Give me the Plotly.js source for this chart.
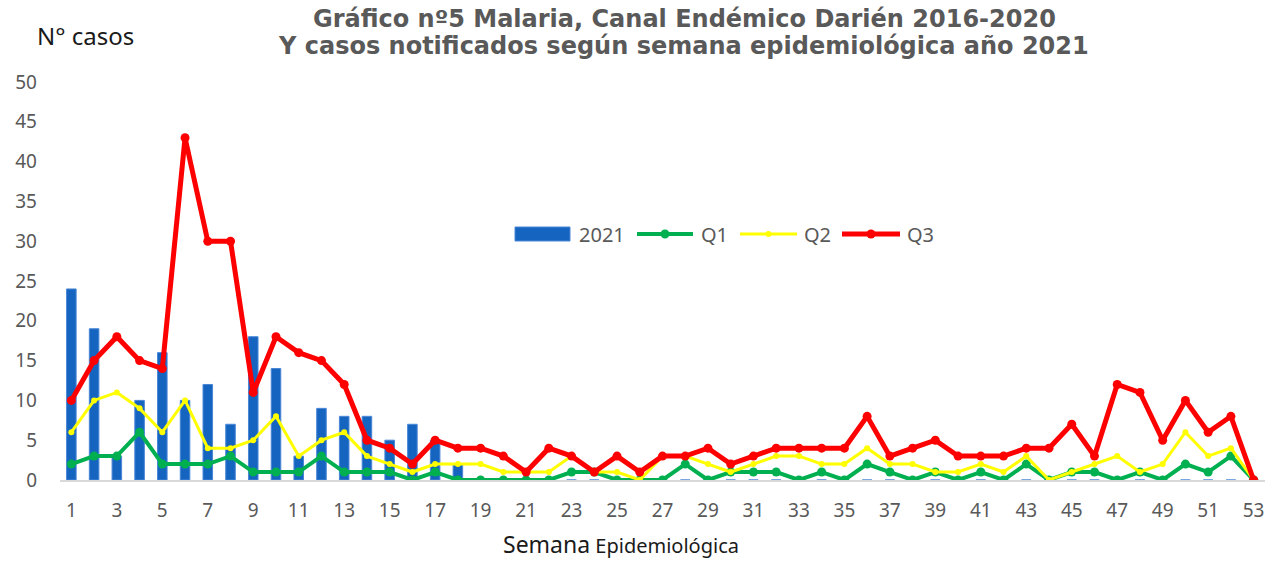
<!DOCTYPE html>
<html><head><meta charset="utf-8">
<script src="https://cdn.plot.ly/plotly-3.0.1.min.js"></script>
<style>body{margin:0;background:#fff}#chart{width:1277px;height:561px}</style>
</head><body><div id="chart"></div>
<script>
const weeks = Array.from({length:53},(_,i)=>i+1);
const cases2021 = [24,19,3,10,16,10,12,7,18,14,3,9,8,8,5,7,5,2,0,0,0,0,0,0,0,0,0,0,0,0,0,0,0,0,0,0,0,0,0,0,0,0,0,0,0,0,0,0,0,0,0,0,0];
const q1 = [2,3,3,6,2,2,2,3,1,1,1,3,1,1,1,0,1,0,0,0,0,0,1,1,0,0,0,2,0,1,1,1,0,1,0,2,1,0,1,0,1,0,2,0,1,1,0,1,0,2,1,3,0];
const q2 = [6,10,11,9,6,10,4,4,5,8,3,5,6,3,2,1,2,2,2,1,1,1,3,1,1,0,3,3,2,1,2,3,3,2,2,4,2,2,1,1,2,1,3,0,1,2,3,1,2,6,3,4,0];
const q3 = [10,15,18,15,14,43,30,30,11,18,16,15,12,5,4,2,5,4,4,3,1,4,3,1,3,1,3,3,4,2,3,4,4,4,4,8,3,4,5,3,3,3,4,4,7,3,12,11,5,10,6,8,0];
const seriesNames = ['2021','Q1','Q2','Q3'];
const tickWeeks = weeks.filter(w=>w%2===1);
const yTicks = [0,5,10,15,20,25,30,35,40,45,50];

const gray = '#595959';
const BLUE = '#1565C0', GREEN = '#00B050', YELLOW = '#FFFF00', RED = '#FF0000';
const FONT = '"Noto Sans", "Open Sans", sans-serif';

// plot area geometry in pixels (for converting legend/title placement)
const L = 60, R = 12, T = 82, B = 81, W = 1277, H = 561;
const pw = W - L - R, ph = H - T - B;
const px = x => (x - L) / pw;
const py = y => (H - B - y) / ph;

const traces = [
  {type:'bar', name:seriesNames[0], x:weeks, y:cases2021, width:0.42,
   marker:{color:BLUE, line:{color:'#4a86d6', width:1}}},
  {type:'scatter', mode:'lines+markers', name:seriesNames[1], x:weeks, y:q1,
   line:{color:GREEN, width:4}, marker:{color:GREEN, size:9}},
  {type:'scatter', mode:'lines+markers', name:seriesNames[2], x:weeks, y:q2,
   line:{color:YELLOW, width:3}, marker:{color:YELLOW, size:6}},
  {type:'scatter', mode:'lines+markers', name:seriesNames[3], x:weeks, y:q3,
   line:{color:RED, width:5}, marker:{color:RED, size:9}}
];

// custom legend (wide swatches like the original)
const ly = 234;
const shapes = [
  {type:'rect', xref:'paper', yref:'paper', x0:px(515), x1:px(570), y0:py(241), y1:py(227), fillcolor:BLUE, line:{color:'#4a86d6', width:1}},
  {type:'line', xref:'paper', yref:'paper', x0:px(637), x1:px(693), y0:py(ly), y1:py(ly), line:{color:GREEN, width:4}},
  {type:'circle', xref:'paper', yref:'paper', x0:px(660.5), x1:px(669.5), y0:py(ly+4.5), y1:py(ly-4.5), fillcolor:GREEN, line:{width:0}},
  {type:'line', xref:'paper', yref:'paper', x0:px(740), x1:px(797), y0:py(ly), y1:py(ly), line:{color:YELLOW, width:3}},
  {type:'circle', xref:'paper', yref:'paper', x0:px(765.5), x1:px(771.5), y0:py(ly+3), y1:py(ly-3), fillcolor:YELLOW, line:{width:0}},
  {type:'line', xref:'paper', yref:'paper', x0:px(842), x1:px(900), y0:py(ly), y1:py(ly), line:{color:RED, width:5}},
  {type:'circle', xref:'paper', yref:'paper', x0:px(866.5), x1:px(875.5), y0:py(ly+4.5), y1:py(ly-4.5), fillcolor:RED, line:{width:0}}
];
const legendText = [[577,seriesNames[0]],[699,seriesNames[1]],[802,seriesNames[2]],[905,seriesNames[3]]];
const annotations = legendText.map(([x,t])=>({text:t, xref:'paper', yref:'paper', x:px(x), y:py(ly),
  xanchor:'left', yanchor:'middle', showarrow:false, font:{family:FONT, size:20, color:gray}}));

annotations.push(
  {text:'<b>Gráfico nº5 Malaria, Canal Endémico Darién 2016-2020</b>', xref:'paper', yref:'paper',
   x:px(684), y:py(19), xanchor:'center', yanchor:'middle', showarrow:false,
   font:{family:'"DejaVu Sans", sans-serif', size:24, color:gray}},
  {text:'<b>Y casos notificados según semana epidemiológica año 2021</b>', xref:'paper', yref:'paper',
   x:px(683), y:py(46), xanchor:'center', yanchor:'middle', showarrow:false,
   font:{family:'"DejaVu Sans", sans-serif', size:24, color:gray}},
  {text:'N° casos', xref:'paper', yref:'paper', x:px(85), y:py(35), xanchor:'center', yanchor:'middle',
   showarrow:false, font:{family:FONT, size:24, color:'#1a1a1a'}},
  {text:'<span style="font-size:23px">Semana</span> Epidemiológica', xref:'paper', yref:'paper',
   x:px(621), y:py(544), xanchor:'center', yanchor:'middle', showarrow:false,
   font:{family:FONT, size:20, color:'#1a1a1a'}}
);

const layout = {
  width:W, height:H,
  margin:{l:L, r:R, t:T, b:B},
  paper_bgcolor:'#fff', plot_bgcolor:'#fff',
  font:{family:FONT, color:gray},
  showlegend:false,
  xaxis:{range:[0.5,53.5], tickmode:'array', tickvals:tickWeeks, ticktext:tickWeeks.map(String),
    showgrid:false, zeroline:false, showline:true, linecolor:'#d9d9d9', linewidth:2,
    ticks:'', ticklabelstandoff:12, tickfont:{size:19, color:gray}},
  yaxis:{range:[0,50], tickmode:'array', tickvals:yTicks, showgrid:false, zeroline:false,
    showline:false, ticks:'', ticklabelstandoff:22, tickfont:{size:19, color:gray}},
  shapes, annotations
};
Plotly.newPlot('chart', traces, layout, {displayModeBar:false, staticPlot:true});
</script></body></html>
